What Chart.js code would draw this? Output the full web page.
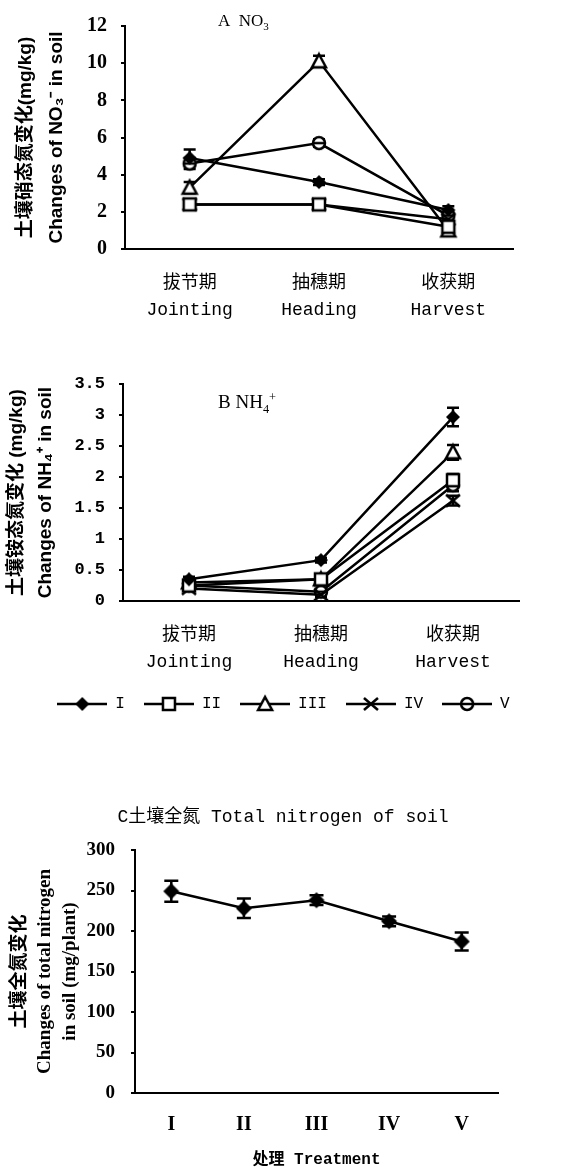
<!DOCTYPE html>
<html>
<head>
<meta charset="utf-8">
<script src="https://cdn.jsdelivr.net/npm/chart.js@4/dist/chart.umd.min.js"></script>
<style>
  html, body { margin: 0; padding: 0; background: #fff; }
  #page { position: relative; width: 561px; height: 1171px; overflow: hidden; background: #fff; }
  canvas { position: absolute; left: 0; }
  .lbl { position: absolute; color: #000; white-space: nowrap; line-height: 1; }
  sub, sup { font-size: 65%; line-height: 0; }
</style>
</head>
<body>
<div id="page">
  <canvas id="cA" width="561" height="330" style="top:0px"></canvas>
  <canvas id="cB" width="561" height="362" style="top:360px"></canvas>
  <canvas id="cC" width="561" height="381" style="top:790px"></canvas>
  <div class="lbl" style="left:218px; top:12px; font-family:'Liberation Serif'; font-size:17px;">A&nbsp; NO<sub>3</sub></div>
  <div class="lbl" style="left:218px; top:392px; font-family:'Liberation Serif'; font-size:19px;">B NH<sub>4</sub><sup>+</sup></div>
  <div class="lbl" style="left:0; width:566px; text-align:center; top:808px; font-family:'Liberation Mono','Noto Sans CJK SC'; font-size:18px;">C土壤全氮 Total nitrogen of soil</div>
</div>
<script>
// ---------- data ----------
const stages = [['拔节期', 'Jointing'], ['抽穗期', 'Heading'], ['收获期', 'Harvest']];
const treatments = ['I', 'II', 'III', 'IV', 'V'];

// A: NO3- changes (mg/kg)
const no3_I   = [4.9, 3.6, 2.1];
const no3_II  = [2.4, 2.4, 1.2];
const no3_III = [3.3, 10.1, 1.0];
const no3_IV  = [2.4, 2.4, 1.6];
const no3_V   = [4.6, 5.7, 1.8];
const no3Err_I   = [0.45, 0.15, 0.2];
const no3Err_II  = [0.15, 0.15, 0.15];
const no3Err_III = [0.3, 0.3, 0.2];
const no3Err_IV  = [0.1, 0.1, 0.1];
const no3Err_V   = [0.3, 0.2, 0.2];
const no3Ticks = [0, 2, 4, 6, 8, 10, 12];

// B: NH4+ changes (mg/kg)
const nh4_I   = [0.35, 0.66, 2.97];
const nh4_II  = [0.25, 0.35, 1.95];
const nh4_III = [0.3, 0.35, 2.4];
const nh4_IV  = [0.2, 0.1, 1.62];
const nh4_V   = [0.25, 0.15, 1.87];
const nh4Err_I   = [0.04, 0.04, 0.15];
const nh4Err_II  = [0.03, 0.05, 0.1];
const nh4Err_III = [0.03, 0.06, 0.12];
const nh4Err_IV  = [0.02, 0.03, 0.08];
const nh4Err_V   = [0.02, 0.03, 0.1];
const nh4Ticks = [0, 0.5, 1, 1.5, 2, 2.5, 3, 3.5];

// C: total nitrogen changes (mg/plant)
const totalN    = [249, 228, 238, 212, 187];
const totalNErr = [13, 12, 6, 6, 11];
const totalNTicks = [0, 50, 100, 150, 200, 250, 300];

// ---------- marker glyphs ----------
function makeMarker(kind, withLine, big) {
  const w = withLine ? 50 : 20, h = 20;
  const s = big ? 8 : 7;
  const c = document.createElement('canvas');
  c.width = w; c.height = h;
  const g = c.getContext('2d');
  g.strokeStyle = '#000'; g.fillStyle = '#000'; g.lineWidth = 2.5;
  const cx = w / 2, cy = h / 2;
  if (withLine) { g.beginPath(); g.moveTo(0, cy); g.lineTo(w, cy); g.stroke(); }
  g.beginPath();
  if (kind === 'diamond') {
    g.moveTo(cx, cy - s); g.lineTo(cx + s, cy); g.lineTo(cx, cy + s); g.lineTo(cx - s, cy); g.closePath(); g.fill();
  } else if (kind === 'square') {
    g.fillStyle = '#fff'; g.rect(cx - 6, cy - 6, 12, 12); g.fill(); g.stroke();
  } else if (kind === 'triangle') {
    g.fillStyle = '#fff'; g.moveTo(cx, cy - 7); g.lineTo(cx + 7, cy + 6); g.lineTo(cx - 7, cy + 6); g.closePath(); g.fill(); g.stroke();
  } else if (kind === 'cross') {
    g.moveTo(cx - 7, cy - 6); g.lineTo(cx + 7, cy + 6); g.moveTo(cx + 7, cy - 6); g.lineTo(cx - 7, cy + 6); g.stroke();
  } else if (kind === 'circle') {
    g.fillStyle = '#fff'; g.arc(cx, cy, 6, 0, Math.PI * 2); g.fill(); g.stroke();
    g.beginPath(); g.moveTo(cx - 6, cy); g.lineTo(cx + 6, cy); g.stroke();
  }
  return c;
}
const kinds = ['diamond', 'square', 'triangle', 'cross', 'circle'];
const pointImgs = kinds.map(k => makeMarker(k, false, false));
const legendImgs = kinds.map(k => makeMarker(k, true, false));
const bigDiamond = makeMarker('diamond', false, true);

// ---------- error bar plugin ----------
const errorBars = {
  id: 'errorBars',
  beforeDatasetsDraw(chart, args, opts) {
    const ctx = chart.ctx, ys = chart.scales.y;
    const cap = opts.cap || 6;
    chart.data.datasets.forEach((ds, i) => {
      if (!ds.errors) return;
      const meta = chart.getDatasetMeta(i);
      meta.data.forEach((pt, j) => {
        const v = ds.data[j], e = ds.errors[j];
        if (!e) return;
        const t = ys.getPixelForValue(v + e), b = ys.getPixelForValue(v - e);
        ctx.save();
        ctx.strokeStyle = '#000'; ctx.lineWidth = 2.5;
        ctx.beginPath();
        ctx.moveTo(pt.x, t); ctx.lineTo(pt.x, b);
        ctx.moveTo(pt.x - cap, t); ctx.lineTo(pt.x + cap, t);
        ctx.moveTo(pt.x - cap, b); ctx.lineTo(pt.x + cap, b);
        ctx.stroke();
        ctx.restore();
      });
    });
  }
};

// shift the legend row so it sits where the original figure put it
const legendShift = {
  id: 'legendShift',
  afterLayout(chart, args, opts) {
    if (chart.legend && opts.dx) {
      chart.legend.left += opts.dx;
      chart.legend.right += opts.dx;
    }
  }
};

function series(label, data, errors, idx) {
  return {
    label, data, errors,
    borderColor: '#000', borderWidth: 2.5, tension: 0,
    pointStyle: pointImgs[idx], pointRadius: 7, pointHoverRadius: 7,
    backgroundColor: '#000'
  };
}

const cjkSans = '"Liberation Sans", "Noto Sans CJK SC", sans-serif';
const monoCjk = '"Liberation Mono", "Noto Sans CJK SC", monospace';

function stageChart(id, opts) {
  return new Chart(document.getElementById(id), {
    type: 'line',
    data: {
      labels: stages,
      datasets: opts.sets.map((s, i) => series(treatments[i], s[0], s[1], i))
    },
    plugins: [errorBars, legendShift],
    options: {
      responsive: false,
      animation: false,
      events: [],
      layout: { padding: opts.padding },
      plugins: {
        tooltip: { enabled: false },
        errorBars: { cap: 6 },
        legendShift: { dx: opts.legendDx || 0 },
        legend: opts.legend ? {
          display: true,
          position: 'bottom',
          labels: {
            usePointStyle: true,
            pointStyleWidth: 50,
            padding: 19,
            color: '#000',
            font: { family: monoCjk, size: 16 },
            generateLabels: (chart) => chart.data.datasets.map((ds, i) => ({
              text: ds.label, pointStyle: legendImgs[i], fillStyle: '#000',
              strokeStyle: '#000', lineWidth: 0, datasetIndex: i, hidden: false, fontColor: '#000'
            }))
          }
        } : { display: false }
      },
      scales: {
        x: {
          type: 'category',
          offset: true,
          afterFit: (s) => { s.height = opts.xHeight; },
          grid: { display: true, drawOnChartArea: false, drawTicks: false },
          border: { display: true, color: '#000', width: 2 },
          ticks: {
            color: '#000', padding: 21,
            font: { family: monoCjk, size: 18, lineHeight: 1.5 }
          }
        },
        y: {
          min: opts.min, max: opts.max,
          afterFit: (s) => { s.width = opts.yWidth; },
          afterBuildTicks: (s) => { s.ticks = opts.ticks.map(v => ({ value: v })); },
          grid: { display: true, drawOnChartArea: false, color: '#000', tickLength: 4, lineWidth: 2 },
          border: { display: true, color: '#000', width: 2 },
          ticks: {
            color: '#000', padding: 14,
            font: opts.tickFont,
            callback: (v) => String(v)
          },
          title: {
            display: true, color: '#000',
            text: opts.yTitle,
            font: { family: cjkSans, size: 19, weight: 'bold', lineHeight: opts.titleLH },
            padding: { top: opts.titlePad, bottom: 0 }
          }
        }
      }
    }
  });
}

stageChart('cA', {
  sets: [[no3_I, no3Err_I], [no3_II, no3Err_II], [no3_III, no3Err_III], [no3_IV, no3Err_IV], [no3_V, no3Err_V]],
  padding: { top: 18, right: 48, left: 0, bottom: 0 },
  xHeight: 81, yWidth: 125, min: 0, max: 12, ticks: no3Ticks,
  tickFont: { family: '"Liberation Serif", serif', size: 20, weight: 'bold' },
  yTitle: ['土壤硝态氮变化(mg/kg)', 'Changes of NO₃⁻ in soil'],
  titleLH: 1.6, titlePad: 11, legend: false
});

stageChart('cB', {
  sets: [[nh4_I, nh4Err_I], [nh4_II, nh4Err_II], [nh4_III, nh4Err_III], [nh4_IV, nh4Err_IV], [nh4_V, nh4Err_V]],
  padding: { top: 22, right: 42, left: 0, bottom: 0 },
  xHeight: 76, yWidth: 123, min: 0, max: 3.5, ticks: nh4Ticks,
  tickFont: { family: '"Liberation Mono", monospace', size: 17, weight: 'bold' },
  yTitle: ['土壤铵态氮变化 (mg/kg)', 'Changes of NH₄⁺ in soil'],
  titleLH: 1.55, titlePad: 2, legend: true, legendDx: 24
});

new Chart(document.getElementById('cC'), {
  type: 'line',
  data: {
    labels: treatments,
    datasets: [{
      label: 'Total N', data: totalN, errors: totalNErr,
      borderColor: '#000', borderWidth: 2.5, tension: 0,
      pointStyle: bigDiamond, pointRadius: 8, backgroundColor: '#000'
    }]
  },
  plugins: [errorBars],
  options: {
    responsive: false, animation: false, events: [],
    layout: { padding: { top: 60, right: 63, left: 0, bottom: 0 } },
    plugins: { legend: { display: false }, tooltip: { enabled: false }, errorBars: { cap: 7 } },
    scales: {
      x: {
        type: 'category', offset: true,
        afterFit: (s) => { s.height = 78; },
        grid: { display: true, drawOnChartArea: false, drawTicks: false },
        border: { display: true, color: '#000', width: 2 },
        ticks: { color: '#000', padding: 20, font: { family: '"Liberation Serif", serif', size: 20, weight: 'bold', lineHeight: 1.2 } },
        title: {
          display: true, text: '处理 Treatment', color: '#000',
          font: { family: '"Liberation Mono", "Noto Sans CJK SC", monospace', size: 16, weight: 'bold', lineHeight: 1.2 },
          padding: { top: 0, bottom: 1 }
        }
      },
      y: {
        min: 0, max: 300,
        afterFit: (s) => { s.width = 135; },
        afterBuildTicks: (s) => { s.ticks = totalNTicks.map(v => ({ value: v })); },
        grid: { display: true, drawOnChartArea: false, color: '#000', tickLength: 4, lineWidth: 2 },
        border: { display: true, color: '#000', width: 2 },
        ticks: { color: '#000', padding: 16, font: { family: '"Liberation Serif", serif', size: 19, weight: 'bold' } },
        title: {
          display: true, color: '#000',
          text: ['土壤全氮变化', 'Changes of total nitrogen', 'in soil (mg/plant)'],
          font: { family: '"Liberation Serif", "Noto Sans CJK SC", serif', size: 19, weight: 'bold', lineHeight: 1.32 },
          padding: { top: 7.5, bottom: 0 }
        }
      }
    }
  }
});
</script>
</body>
</html>
